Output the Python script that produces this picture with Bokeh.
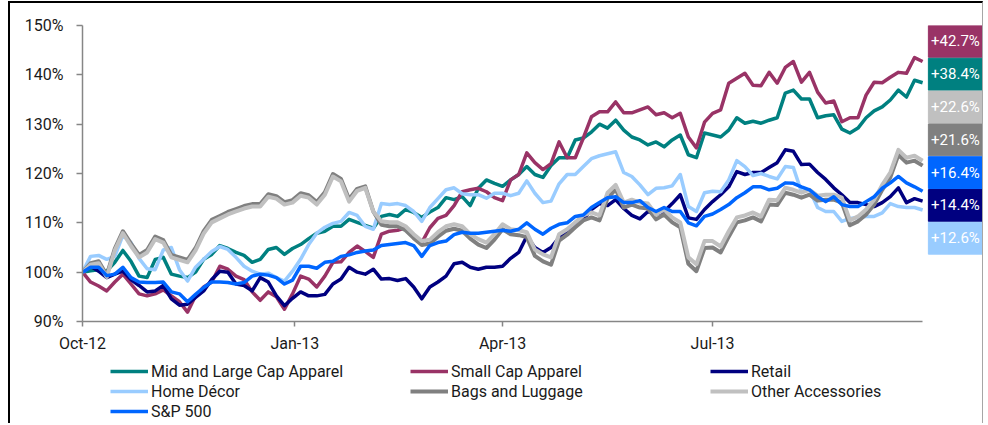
import pandas as pd
from bokeh.plotting import figure
from bokeh.layouts import column
from bokeh.models import (Range1d, FixedTicker, PrintfTickFormatter, DatetimeTickFormatter,
                          Legend, LegendItem, ColumnDataSource)
from bokeh.core.properties import value
from bokeh.embed import file_html
from bokeh.resources import INLINE

FONT = "Roboto"

# sampling dates (every 3.5 days, Oct 1 2012 - Sep 30 2013)
dates = pd.date_range(start="2012-10-01", periods=105, freq="84h")

series_names = ["Mid and Large Cap Apparel", "Small Cap Apparel", "Retail", "Home Décor",
                "Bags and Luggage", "Other Accessories", "S&P 500"]
series_colors = ["#008080", "#993366", "#000080", "#99CCFF", "#808080", "#C0C0C0", "#0066FF"]

mid_large = [100, 100.3, 100.5, 100.2, 102, 104.4, 102.2, 99.2, 98.9, 102.6, 103, 99.6, 99.2, 98.9, 100,
             102.6, 103.6, 105.4, 104.8, 104, 103.4, 102, 102.6, 104.6, 105, 103.6, 104.8, 105.6, 106.8,
             107.9, 108.3, 109.3, 109.3, 110.7, 110.1, 109.5, 108.9, 111.3, 111.7, 111.3, 112.7, 112.1,
             111.1, 112.2, 113.1, 115.1, 114.7, 115.3, 113.5, 117, 118.7, 118, 117.4, 118.7, 119.8, 121.4,
             119.8, 119.2, 121.6, 123.2, 123.2, 126.8, 127.2, 128.4, 130, 129.2, 130.8, 128.8, 127.4, 126.8,
             125.8, 126.4, 125.4, 126.8, 127.8, 123.8, 123.2, 128.2, 127.8, 127.4, 128.8, 131.3, 130.2,
             130.6, 130.2, 130.8, 131.3, 136.3, 136.9, 135.1, 135.1, 131.3, 131.7, 131.9, 129, 128.2,
             129.2, 131.3, 132.7, 133.5, 134.9, 136.9, 135.5, 138.9, 138.4]
small_cap = [100, 98, 97.2, 96.2, 98, 99.6, 97.6, 95.6, 95.2, 95.6, 96.4, 95.2, 94, 91.9, 95.2, 97, 98,
             101.2, 100.6, 99.2, 98.5, 96, 94.3, 96, 95, 92.5, 95.6, 99.2, 98.6, 97, 99.2, 102, 102.1, 104,
             105.3, 104.2, 103, 107.7, 108.3, 108.5, 109, 107, 106, 109, 110.9, 111.5, 113.5, 116.3, 116.7,
             117, 116.3, 115.1, 114.5, 118.7, 119.8, 124.2, 122.2, 120.8, 122, 126.4, 123.2, 123.2, 127.2,
             131.5, 132.5, 132.5, 134.5, 132.3, 132.3, 132.9, 133.5, 131.9, 132.3, 131.3, 132.2, 127.4,
             125.2, 130.4, 132.2, 132.9, 138.3, 139.3, 140.3, 137.9, 137.8, 140.5, 138.3, 141.5, 142.7,
             138.5, 140.5, 136.5, 134.3, 134.7, 130.5, 131.3, 131.3, 135.9, 138.5, 138.4, 139.5, 140.5,
             140.3, 143.5, 142.7]
retail = [100, 101.2, 100.2, 98.9, 99.6, 100.2, 98.5, 97.3, 96, 96.2, 97.3, 94.6, 93.3, 93.5, 94.9, 96.2,
          98.5, 100.2, 100, 97.6, 97.3, 96.2, 98.9, 98, 95.2, 93.2, 94.7, 96, 95.2, 95.2, 95.5, 97.6, 98.6,
          101, 100, 99.6, 100.6, 98.6, 98.7, 98.3, 98.7, 97, 94.6, 97, 98, 99.2, 101.7, 102, 101, 100.6, 101,
          101, 101.2, 102.8, 104, 107.3, 105, 104, 105, 107, 108, 109.5, 110.7, 112.7, 113.9, 113.5, 114.7,
          112.9, 111.5, 110.8, 112.3, 111.7, 112.3, 113.9, 115.7, 111, 110.7, 112.7, 114.3, 115.7, 117.3,
          120.4, 119.8, 120.2, 120.2, 121.2, 122.2, 124.8, 124.5, 121.8, 121.9, 120.2, 118.8, 117.1, 115.7,
          114.1, 114.1, 113.7, 113.3, 114.1, 115.3, 117.1, 114.1, 114.9, 114.4]
home_decor = [100, 103.2, 103.4, 102.6, 103.2, 107.5, 106, 102.8, 100.7, 100.5, 104.5, 105, 100.5, 98.2,
              101, 102.6, 104.2, 105.2, 104.6, 103, 101.2, 100.2, 99.6, 99.8, 98.9, 98.2, 100.2, 102.6,
              105.6, 107.9, 109.1, 109.9, 110.3, 112.1, 111.5, 109.3, 108.7, 113.9, 113.7, 113.9, 113.5,
              112.3, 110.3, 113.1, 114.9, 116.7, 117.1, 115.9, 115.7, 115.7, 115, 116, 116, 115.5, 116,
              118.5, 116, 114.1, 114.4, 117.9, 119.8, 119.8, 121.4, 123, 123.6, 124, 124.4, 120.2, 119.4,
              117.7, 115.7, 117, 117.1, 117.5, 119.8, 113.3, 112.3, 116.1, 116.4, 116.3, 118.7, 122.6,
              121.4, 119.6, 120, 119.4, 118.9, 121.4, 121.2, 116.3, 116.7, 113.1, 112.3, 112.3, 110.3,
              110.9, 111.1, 111.3, 111.3, 112, 113.9, 113.3, 113.1, 113.1, 112.6]
bags_luggage = [100, 101.8, 102.2, 99.4, 104.8, 108.3, 105.8, 103.5, 104.5, 107.2, 106.5, 103.5, 103,
                102.5, 104.9, 108.3, 110.6, 111.4, 112.2, 112.8, 113.4, 113.8, 113.8, 115.8, 115.4, 114.2,
                114.6, 116, 115.6, 114.2, 116.2, 119.9, 118.9, 114.8, 116.9, 117.4, 112.3, 109.6, 109.3,
                109.3, 108.5, 106.9, 105.5, 105.8, 107.2, 108.4, 108.8, 108.4, 106.8, 105.6, 104.9, 106.6,
                108.7, 107.7, 107.5, 107.1, 103.3, 102.2, 101.5, 106.4, 107.6, 109.1, 110.5, 111.1, 110.5,
                115, 116.8, 113.1, 113.7, 113.1, 112.9, 110.7, 111.7, 110.1, 109.1, 101.7, 100.2, 104.9,
                105, 104, 107.2, 110.1, 110.5, 111.1, 110.3, 113.7, 113.6, 116.1, 115.7, 115.1, 115.7,
                114.5, 114.7, 114.7, 114.1, 109.5, 110.3, 111.7, 113.7, 116.7, 119.2, 123.8, 122.2, 122.6,
                121.6]
other_acc = [100, 101.5, 101.8, 99, 104.4, 107.9, 105.3, 103, 104, 106.7, 106, 103, 102.5, 102, 104.4,
             107.8, 110.1, 110.9, 111.7, 112.3, 112.9, 113.3, 113.3, 115.3, 114.9, 113.7, 114.1, 115.5,
             115.1, 113.7, 115.7, 119.4, 118.4, 114.3, 116.5, 117.1, 112.3, 110.3, 110.1, 110.1, 109.3,
             107.7, 106.3, 106.6, 108.1, 109.3, 109.7, 109.3, 107.7, 106.7, 106, 107.7, 109.7, 108.7, 108.5,
             108.1, 104.6, 103.6, 103, 107.7, 108.7, 110.1, 111.5, 112.1, 111.5, 116.1, 117.7, 114.1, 114.7,
             114.1, 113.9, 111.7, 112.7, 111.1, 110.1, 103, 101.6, 106.3, 106.3, 105.2, 108.3, 111.1, 111.5,
             112.1, 111.3, 114.7, 114.6, 117.1, 116.7, 116.1, 116.7, 115.5, 115.7, 115.7, 115.1, 110.5,
             111.3, 112.7, 114.7, 117.7, 120.2, 124.8, 123.2, 123.6, 122.6]
sp500 = [100, 101, 101, 99.3, 99.6, 101, 98.9, 98, 97.9, 97.9, 98, 96, 95.6, 94, 95.5, 96.9, 98, 98, 97.9,
         97.6, 97.9, 99.2, 99.6, 99.4, 98.9, 97.6, 98.4, 101.2, 101.2, 100.8, 102, 102.2, 103.2, 103.5, 104,
         104.3, 104.5, 105.4, 105.6, 105.8, 106, 105.4, 103.2, 105.4, 106, 106.3, 107.6, 108.1, 107.9, 107.9,
         108.1, 108.3, 108.5, 108.3, 108.7, 110, 108.7, 107.7, 108.9, 109.7, 110, 111.3, 111.6, 113.1, 114.1,
         115.1, 115.3, 114.1, 114.1, 114.5, 113.1, 112.3, 113.1, 112.3, 112.3, 110, 109.4, 111.3, 111.8,
         112.7, 113.7, 115.1, 116.1, 117.3, 117.3, 116.7, 117, 118.1, 118, 117.3, 116.7, 115.3, 114.3, 115.3,
         113.7, 113.3, 113.3, 114.3, 115.3, 117, 118.1, 119.4, 118.1, 117.3, 116.4]

series_values = [mid_large, small_cap, retail, home_decor, bags_luggage, other_acc, sp500]

y_ticks = [90, 100, 110, 120, 130, 140, 150]
x_tick_dates = ["2012-10-01", "2013-01-01", "2013-04-01", "2013-07-01"]

# ---- layout constants (layout origin is at page x=10, y=3) ----
W = 972
H_MAIN, H_LEG = 352, 68
LEFT, TOP, FRAME_H = 72, 22, 298
BOTTOM = H_MAIN - TOP - FRAME_H
PX_PER_DAY = 2.308
start = pd.Timestamp("2012-10-01")
frame_w = W - LEFT
end = start + pd.Timedelta(days=frame_w / PX_PER_DAY)

p = figure(width=W, height=H_MAIN, output_backend="svg", toolbar_location=None,
           x_axis_type="datetime",
           x_range=Range1d(start.to_pydatetime(), end.to_pydatetime()),
           y_range=Range1d(90, 150),
           min_border_left=LEFT, min_border_right=0, min_border_top=TOP, min_border_bottom=BOTTOM)
p.outline_line_color = None
p.xgrid.visible = False
p.ygrid.visible = False
p.background_fill_color = "white"
p.border_fill_color = "white"

sources = []
for name, color, vals in zip(series_names, series_colors, series_values):
    src = ColumnDataSource(dict(x=dates, y=vals))
    sources.append(src)
    lw = 4 if color in ("#C0C0C0", "#808080") else 3.5
    p.line("x", "y", source=src, line_color=color, line_width=lw, line_join="round")

# axes
for ax in (p.xaxis[0], p.yaxis[0]):
    ax.axis_line_color = "#868686"
    ax.axis_line_width = 1.5
    ax.major_tick_line_color = "#868686"
    ax.major_tick_line_width = 1.5
    ax.major_tick_in = 0
    ax.minor_tick_line_color = None
    ax.major_label_text_font = FONT
    ax.major_label_text_font_size = "16px"
    ax.major_label_text_color = "#1a1a1a"

p.yaxis.ticker = FixedTicker(ticks=y_ticks)
p.yaxis.formatter = PrintfTickFormatter(format="%d%%")
p.yaxis.major_tick_out = 6
p.yaxis.major_label_standoff = 13
p.yaxis.bounds = (90, 150)

tick_ms = [pd.Timestamp(d).value // 10**6 for d in x_tick_dates]
p.xaxis.ticker = FixedTicker(ticks=tick_ms)
fmt = "%b-%y"
p.xaxis.formatter = DatetimeTickFormatter(milliseconds=fmt, seconds=fmt, minsec=fmt, minutes=fmt,
                                          hourmin=fmt, hours=fmt, days=fmt, months=fmt, years=fmt)
p.xaxis.major_tick_out = 5
p.xaxis.major_label_standoff = 7
p.xaxis.bounds = (dates[0].to_pydatetime(), dates[-1].to_pydatetime())

# end-value boxes, stacked, sorted by final value
final = [(v[-1], c) for v, c in zip(series_values, series_colors)]
final.sort(key=lambda t: -t[0])
box_h = 6.45
box_step = 6.65
tops = [150 - i * box_step for i in range(len(final))]
bottoms = [t - box_h for t in tops]
box_left = start + pd.Timedelta(days=366.5)
box_src = ColumnDataSource(dict(
    left=[box_left] * len(final), right=[end] * len(final),
    top=tops, bottom=bottoms, color=[c for _, c in final],
    xc=[box_left + (end - box_left) / 2] * len(final),
    yc=[(t + b) / 2 for t, b in zip(tops, bottoms)],
    label=[f"+{v - 100:.1f}%" for v, _ in final]))
p.quad(left="left", right="right", top="top", bottom="bottom", color="color", source=box_src)
p.text(x="xc", y="yc", text="label", source=box_src, text_color="white",
       text_font=value(FONT), text_font_size="15px", text_align="center", text_baseline="middle")

# ---- legend strip below the chart (same series, drawn out of view; only the legend shows) ----
pl = figure(width=W, height=H_LEG, output_backend="svg", toolbar_location=None,
            x_range=Range1d(0, 1), y_range=Range1d(0, 1),
            x_axis_location=None, y_axis_location=None,
            min_border_left=0, min_border_right=0, min_border_top=0, min_border_bottom=0)
pl.outline_line_color = None
pl.xgrid.visible = False
pl.ygrid.visible = False
items = []
for name, color, src in zip(series_names, series_colors, sources):
    lw = 4 if color in ("#C0C0C0", "#808080") else 3.5
    r = pl.line("x", "y", source=src, line_color=color, line_width=lw)
    items.append(LegendItem(label=name, renderers=[r]))
legend = Legend(items=items, location=(100 - LEFT, H_LEG - 6 - 60), orientation="horizontal", ncols=3,
                glyph_width=38, glyph_height=20, label_height=20, label_width=259,
                label_standoff=3, spacing=0, padding=0, margin=0,
                border_line_alpha=0, background_fill_alpha=0,
                label_text_font=FONT, label_text_font_size="16px", label_text_color="#1a1a1a")
pl.add_layout(legend)

layout = column(p, pl, spacing=0)
layout.styles = {"margin-left": "8px", "margin-top": "1px",
                 "border-left": "2px solid #000", "border-top": "2px solid #000",
                 "border-right": "1px solid #A6A6A6"}

open("out.html", "w").write(file_html(layout, INLINE))
